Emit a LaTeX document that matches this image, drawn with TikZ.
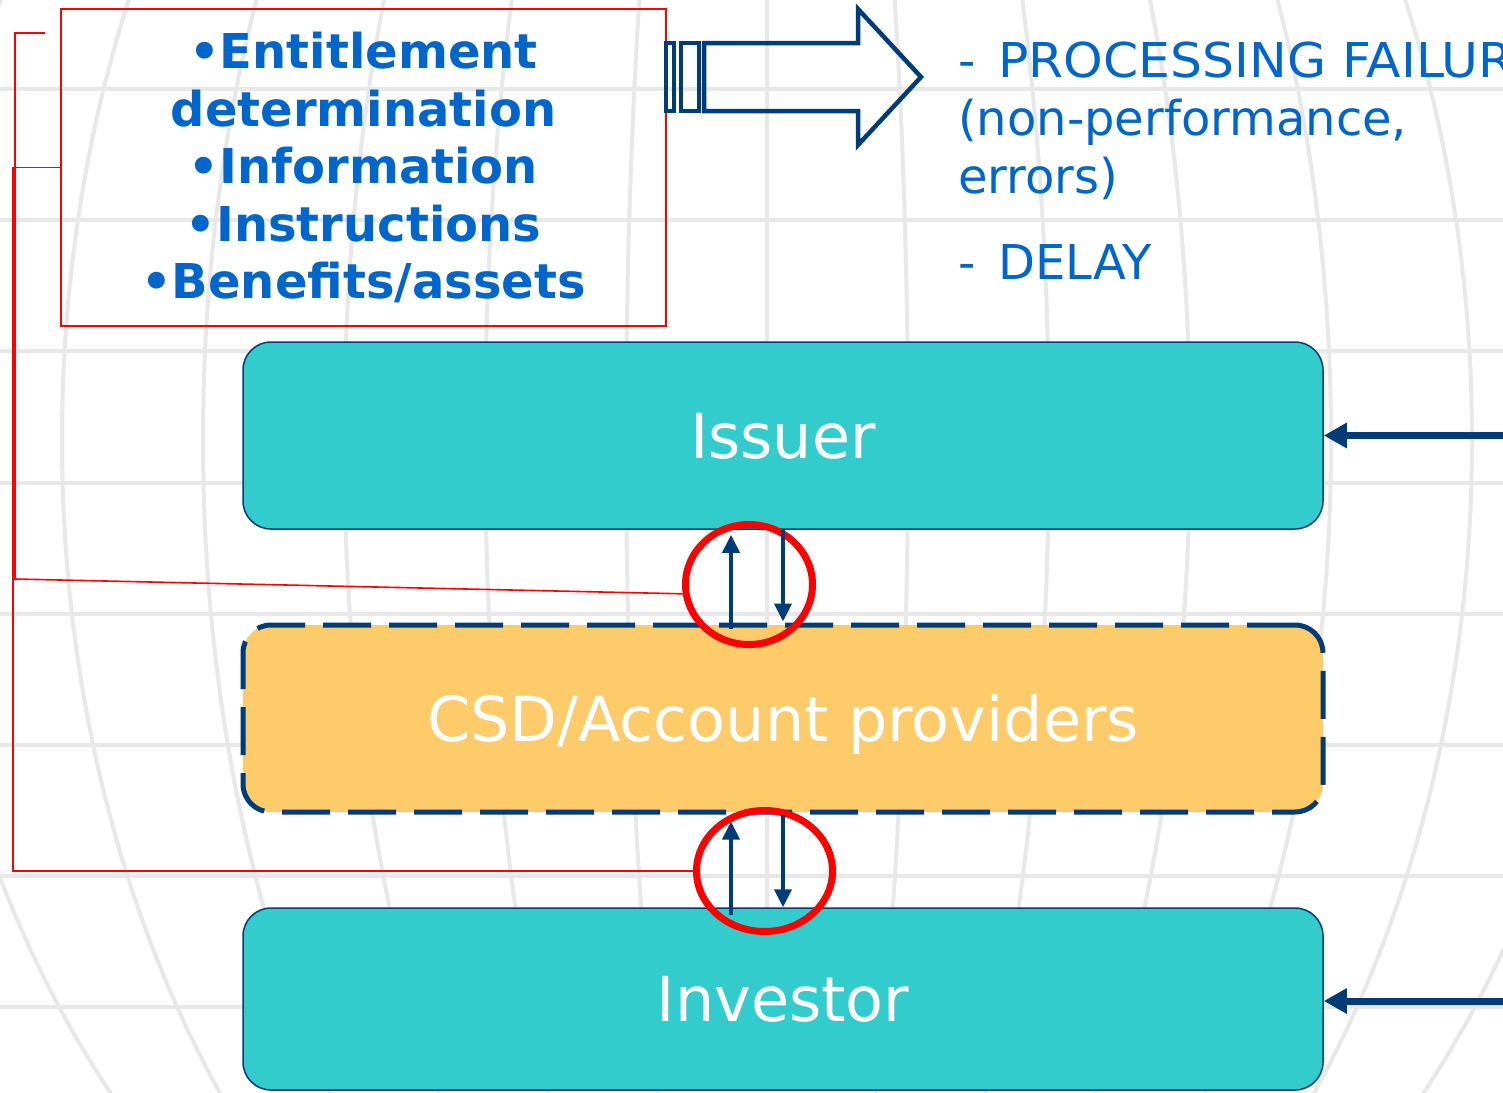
\documentclass[tikz,border=0pt]{standalone}
\usepackage{fontspec}
\setmainfont{DejaVu Sans}
\usepackage{tikz}
\usetikzlibrary{arrows.meta,shapes.geometric,positioning}
\definecolor{navyline}{RGB}{0,60,120}
\definecolor{tealbox}{RGB}{51,204,204}
\definecolor{csdfill}{RGB}{253,203,106}
\definecolor{textblue}{RGB}{0,102,204}
\definecolor{gridgray}{RGB}{232,232,232}

\begin{document}
\begin{tikzpicture}[x=1pt, y=-1pt,
  party/.style={draw=navyline, line width=1.5pt, rounded corners=28pt, minimum width=1080pt,
    text=white, text height=45pt, text depth=0pt, font=\fontsize{62}{70}\selectfont},
  ring/.style={ellipse, draw=red, line width=7pt, inner sep=0pt},
  redline/.style={draw=red, line width=1.6pt},
  flow/.style={->, >={Triangle[length=18pt,width=17pt]}, draw=navyline, line width=4pt},
  feed/.style={->, >={Triangle[length=23pt,width=24pt]}, draw=navyline, line width=7pt},
  globe/.style={draw=gridgray, line width=4pt}]
  \useasboundingbox (0,0) rectangle (1503,1092);
  \clip (0,0) rectangle (1503,1092);
  \fill[white] (0,0) rectangle (1503,1092);
  \foreach \k in {0,...,7}
    \draw[globe] (0,{89+131.2*\k}) -- (1503,{89+131.2*\k});
  \foreach \k in {1,...,6}
    \draw[globe] (767,440) ellipse [x radius=\k*141pt, y radius=1035pt];
  \draw[globe] (767,0) -- (767,1092);

  \node[draw=red, line width=2pt, minimum width=605pt, minimum height=317pt, text=textblue, align=center,
    font=\bfseries\fontsize{48}{57.5}\selectfont] (topics) at (363.5,167.5)
    {•Entitlement\\determination\\•Information\\•Instructions\\•Benefits/assets};
  \node[anchor=north west, inner sep=0pt, text=textblue, align=left, font=\fontsize{48}{58}\selectfont] (risks) at (958,42)
    {-\hspace{23pt}\scalebox{1.05}[1]{PROCESSING FAILURE}\\(non-performance,\\errors)\\[28pt]-\hspace{23pt}DELAY};
  \draw[navyline, line width=4.5pt] (704,43) -- (858,43) -- (858,9) -- (921,77) -- (858,145) -- (858,111) -- (704,111) -- cycle;
  \draw[navyline, line width=4pt] (666,43) rectangle (674,111) (681,43) rectangle (699,111);

  \node[party, fill=tealbox, minimum height=187pt] (issuer) at (783,435.5) {Issuer};
  \node[party, fill=csdfill, minimum height=187pt, line width=5pt, dash pattern=on 48pt off 18pt] (csd) at (783,718.5) {CSD/Account providers};
  \node[party, fill=tealbox, minimum height=182pt] (investor) at (783,999) {Investor};

  \node[ring, minimum width=127pt, minimum height=120pt] (ring1) at (749,584.5) {};
  \node[ring, minimum width=136pt, minimum height=121pt] (ring2) at (764.5,871) {};

  \draw[flow, shorten <=-6pt, shorten >=5pt] ([xshift=-52pt]csd.north) -- ([xshift=-52pt]issuer.south);
  \draw[flow, shorten >=1pt] (issuer.south) -- (csd.north);
  \draw[flow, shorten <=-8pt, shorten >=7pt] ([xshift=-52pt]investor.north) -- ([xshift=-52pt]csd.south);
  \draw[flow] (csd.south) -- (investor.north);

  \coordinate (tab) at (45,33);
  \draw[redline] (tab) -- (15,33) -- (15,579) -- (ring1.188);
  \draw[redline] (topics.west) -- ++(-47pt,0) |- (ring2.west);

  \coordinate[right=200pt of issuer.east] (feedtop);
  \coordinate[right=200pt of investor.east, yshift=-2pt] (feedbottom);
  \draw[feed] (feedtop) -- (issuer.east);
  \draw[feed] (feedbottom) -- ([yshift=-2pt]investor.east);
\end{tikzpicture}
\end{document}
